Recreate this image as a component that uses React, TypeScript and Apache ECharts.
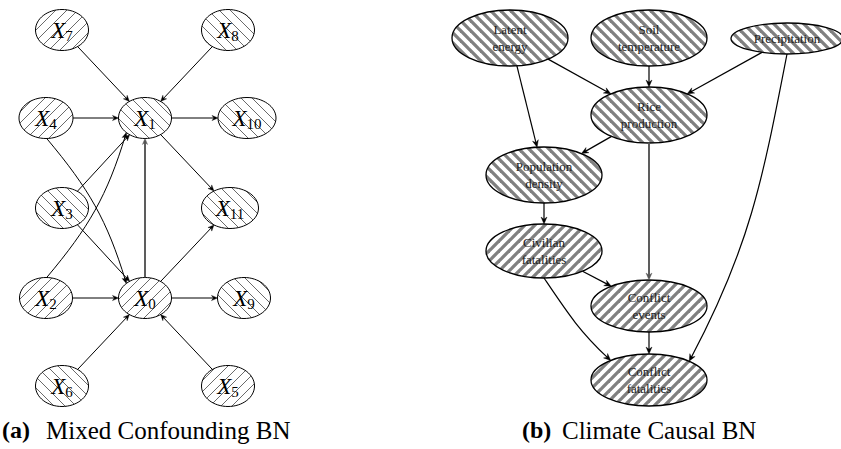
import React, { useEffect, useRef } from 'react';
import * as echarts from 'echarts';

// ---------- nodes ----------
// (a) Mixed Confounding BN, then (b) Climate Causal BN
const nodeIds = [
  'X7', 'X8', 'X4', 'X1', 'X10', 'X3', 'X11', 'X2', 'X0', 'X9', 'X6', 'X5',
  'LE', 'ST', 'PR', 'RP', 'PD', 'CF', 'CE', 'CX',
];
const mixedSubscripts = ['7', '8', '4', '1', '10', '3', '11', '2', '0', '9', '6', '5'];
const climateLabels = [
  'Latent\nenergy', 'Soil\ntemperature', 'Precipitation', 'Rice\nproduction',
  'Population\ndensity', 'Civilian\nfatalities', 'Conflict\nevents', 'Conflict\nfatalities',
];
const nodeX = [62, 228, 46, 145, 247, 62, 230, 46, 145, 244, 62, 228, 510, 649, 787, 649, 544, 544, 649, 649];
const nodeY = [30, 30, 118, 118, 118, 208, 208, 298, 298, 298, 386, 386, 38, 38, 38.5, 115, 175, 251, 306, 380];
const nodeW = [53, 53, 54, 53, 58, 53, 57, 53, 53, 53, 53, 53, 116, 116, 112, 116, 116, 116, 116, 116];
const nodeH = [41, 41, 41, 41, 41, 41, 41, 41, 41, 41, 41, 41, 56, 56, 31, 56, 56, 54, 52, 52];
const hatchDir = [
  '/', '\\', '/', '\\', '\\', '\\', '\\', '/', '/', '\\', '\\', '/',
  '\\', '\\', '\\', '\\', '\\', '/', '/', '/',
];

// ---------- edges ----------
const edgeFrom = [
  'X7', 'X8', 'X4', 'X1', 'X1', 'X3', 'X2', 'X4', 'X3', 'X0', 'X2', 'X0', 'X0', 'X6', 'X5',
  'LE', 'LE', 'ST', 'PR', 'PR', 'RP', 'RP', 'PD', 'CF', 'CF', 'CE',
];
const edgeTo = [
  'X1', 'X1', 'X1', 'X10', 'X11', 'X1', 'X1', 'X0', 'X0', 'X1', 'X0', 'X9', 'X11', 'X0', 'X0',
  'RP', 'PD', 'RP', 'RP', 'CX', 'PD', 'CE', 'CF', 'CE', 'CX', 'CX',
];
// bent edges: [anchor angle at source, anchor angle at target, out angle, in angle] (degrees)
const edgeBend: Record<string, number[]> = {
  'X2>X1': [88, 218, 50, 253],
  'X4>X0': [272, 142, 310, 107],
  'PR>CX': [270, 25, 259, 62],
  'CF>CX': [270, 153, 304, 137],
};
const greyEdges = ['X0>X1', 'RP>CE'];

const idx: Record<string, number> = {};
nodeIds.forEach((id, i) => (idx[id] = i));
const MIXED_COUNT = 12;

const SERIF = '"Liberation Serif", serif';

function hatchTile(dir: string, period: number, width: number, color: string) {
  const c = document.createElement('canvas');
  c.width = period;
  c.height = period;
  const g = c.getContext('2d')!;
  g.fillStyle = '#fff';
  g.fillRect(0, 0, period, period);
  g.strokeStyle = color;
  g.lineWidth = width;
  for (let k = -2; k <= 2; k++) {
    g.beginPath();
    if (dir === '\\') {
      g.moveTo(k * period - period, -period);
      g.lineTo(k * period + 2 * period, 2 * period);
    } else {
      g.moveTo(k * period - period, 2 * period);
      g.lineTo(k * period + 2 * period, -period);
    }
    g.stroke();
  }
  return c;
}

const dirOf = (deg: number) => [Math.cos((deg * Math.PI) / 180), -Math.sin((deg * Math.PI) / 180)];
function border(c: number[], a: number, b: number, ux: number, uy: number) {
  const t = 1 / Math.sqrt((ux / a) ** 2 + (uy / b) ** 2);
  return [c[0] + t * ux, c[1] + t * uy];
}

export default function App() {
  const ref = useRef<HTMLDivElement>(null);
  useEffect(() => {
    const chart = echarts.init(ref.current!, null, { renderer: 'svg' });
    const tiles = {
      thin: { '/': hatchTile('/', 11, 1, '#6a6a6a'), '\\': hatchTile('\\', 11, 1, '#6a6a6a') },
      thick: { '/': hatchTile('/', 10, 3.3, '#808080'), '\\': hatchTile('\\', 10, 3.3, '#808080') },
    } as any;

    const renderNode = (params: any, api: any) => {
      const i = params.dataIndex;
      const [cx, cy] = api.coord([api.value(0), api.value(1)]);
      const mixed = i < MIXED_COUNT;
      const tile = (mixed ? tiles.thin : tiles.thick)[hatchDir[i]];
      const label = mixed
        ? {
            type: 'text',
            x: cx,
            y: cy,
            style: {
              text: `{x|X}{s|${mixedSubscripts[i]}}`,
              align: 'center',
              verticalAlign: 'middle',
              rich: {
                x: { fontFamily: SERIF, fontStyle: 'italic', fontSize: 23, fill: '#000' },
                s: { fontFamily: SERIF, fontSize: 15, fill: '#000', padding: [12, 0, 0, 0] },
              },
            },
          }
        : {
            type: 'text',
            x: cx,
            y: cy,
            style: {
              text: climateLabels[i - MIXED_COUNT],
              align: 'center',
              verticalAlign: 'middle',
              fontFamily: SERIF,
              fontSize: 13,
              lineHeight: 17,
              fill: '#222',
            },
          };
      return {
        type: 'group',
        children: [
          {
            type: 'ellipse',
            shape: { cx, cy, rx: nodeW[i] / 2, ry: nodeH[i] / 2 },
            style: {
              fill: { image: tile, repeat: 'repeat' },
              stroke: '#000',
              lineWidth: mixed ? 1 : 1.3,
            },
          },
          label,
        ],
      };
    };

    const renderEdge = (params: any, api: any) => {
      const k = params.dataIndex;
      const A = api.coord([api.value(0), api.value(1)]);
      const B = api.coord([api.value(2), api.value(3)]);
      const fi = idx[edgeFrom[k]];
      const ti = idx[edgeTo[k]];
      const key = `${edgeFrom[k]}>${edgeTo[k]}`;
      const mixed = fi < MIXED_COUNT;
      const grey = greyEdges.includes(key);
      const color = grey ? '#555' : '#000';
      const lw = grey ? 1.9 : mixed ? 1 : 1.2;
      const L = mixed ? 6 : 7;
      const W = mixed ? 2.6 : 3;
      const bend = edgeBend[key];
      let P0: number[];
      let P3: number[];
      let tail: number[];
      let P1: number[] = [];
      let P2: number[] = [];
      if (!bend) {
        const dx = B[0] - A[0];
        const dy = B[1] - A[1];
        const len = Math.hypot(dx, dy);
        const ux = dx / len;
        const uy = dy / len;
        P0 = border(A, nodeW[fi] / 2, nodeH[fi] / 2, ux, uy);
        P3 = border(B, nodeW[ti] / 2, nodeH[ti] / 2, -ux, -uy);
        tail = P0;
      } else {
        const s = dirOf(bend[0]);
        const e = dirOf(bend[1]);
        P0 = border(A, nodeW[fi] / 2, nodeH[fi] / 2, s[0], s[1]);
        P3 = border(B, nodeW[ti] / 2, nodeH[ti] / 2, e[0], e[1]);
        const d = 0.4 * Math.hypot(P3[0] - P0[0], P3[1] - P0[1]);
        const o = dirOf(bend[2]);
        const n = dirOf(bend[3]);
        P1 = [P0[0] + d * o[0], P0[1] + d * o[1]];
        P2 = [P3[0] + d * n[0], P3[1] + d * n[1]];
        tail = P2;
      }
      const vl = Math.hypot(P3[0] - tail[0], P3[1] - tail[1]);
      const vx = (P3[0] - tail[0]) / vl;
      const vy = (P3[1] - tail[1]) / vl;
      const E = [P3[0] - vx * L * 0.5, P3[1] - vy * L * 0.5];
      const back = [P3[0] - vx * L, P3[1] - vy * L];
      const nx = -vy;
      const ny = vx;
      const line = bend
        ? {
            type: 'bezierCurve',
            shape: { x1: P0[0], y1: P0[1], cpx1: P1[0], cpy1: P1[1], cpx2: P2[0], cpy2: P2[1], x2: E[0], y2: E[1] },
            style: { stroke: color, lineWidth: lw, fill: 'none' },
          }
        : {
            type: 'line',
            shape: { x1: P0[0], y1: P0[1], x2: E[0], y2: E[1] },
            style: { stroke: color, lineWidth: lw },
          };
      const head = {
        type: 'polygon',
        shape: {
          points: [
            P3,
            [back[0] + nx * W, back[1] + ny * W],
            [P3[0] - vx * L * 0.68, P3[1] - vy * L * 0.68],
            [back[0] - nx * W, back[1] - ny * W],
          ],
        },
        style: { fill: color, stroke: color, lineWidth: 0.4 },
      };
      return { type: 'group', children: [line, head] };
    };

    const captionFont = { fontFamily: SERIF, color: '#000' };
    chart.setOption({
      animation: false,
      backgroundColor: '#fff',
      grid: { left: 0, right: 0, top: 0, bottom: 0 },
      xAxis: { type: 'value', min: 0, max: 841, show: false },
      yAxis: { type: 'value', min: 0, max: 449, inverse: true, show: false },
      title: [
        { text: '(a)', left: 2, top: 418, padding: 0, textStyle: { ...captionFont, fontWeight: 'bold', fontSize: 24 } },
        { text: 'Mixed Confounding BN', left: 46, top: 418, padding: 0, textStyle: { ...captionFont, fontWeight: 'normal', fontSize: 25 } },
        { text: '(b)', left: 522, top: 418, padding: 0, textStyle: { ...captionFont, fontWeight: 'bold', fontSize: 24 } },
        { text: 'Climate Causal BN', left: 562, top: 418, padding: 0, textStyle: { ...captionFont, fontWeight: 'normal', fontSize: 25 } },
      ],
      series: [
        {
          type: 'custom',
          name: 'nodes',
          coordinateSystem: 'cartesian2d',
          data: nodeIds.map((_, i) => [nodeX[i], nodeY[i]]),
          renderItem: renderNode,
          z: 2,
        },
        {
          type: 'custom',
          name: 'edges',
          coordinateSystem: 'cartesian2d',
          encode: { x: [0, 2], y: [1, 3] },
          data: edgeFrom.map((f, k) => [nodeX[idx[f]], nodeY[idx[f]], nodeX[idx[edgeTo[k]]], nodeY[idx[edgeTo[k]]]]),
          renderItem: renderEdge,
          z: 3,
        },
      ],
    });
    return () => chart.dispose();
  }, []);
  return (
    <div
      ref={ref}
      style={{ position: 'fixed', left: 0, top: 0, width: 841, height: 449, background: '#fff' }}
    />
  );
}
